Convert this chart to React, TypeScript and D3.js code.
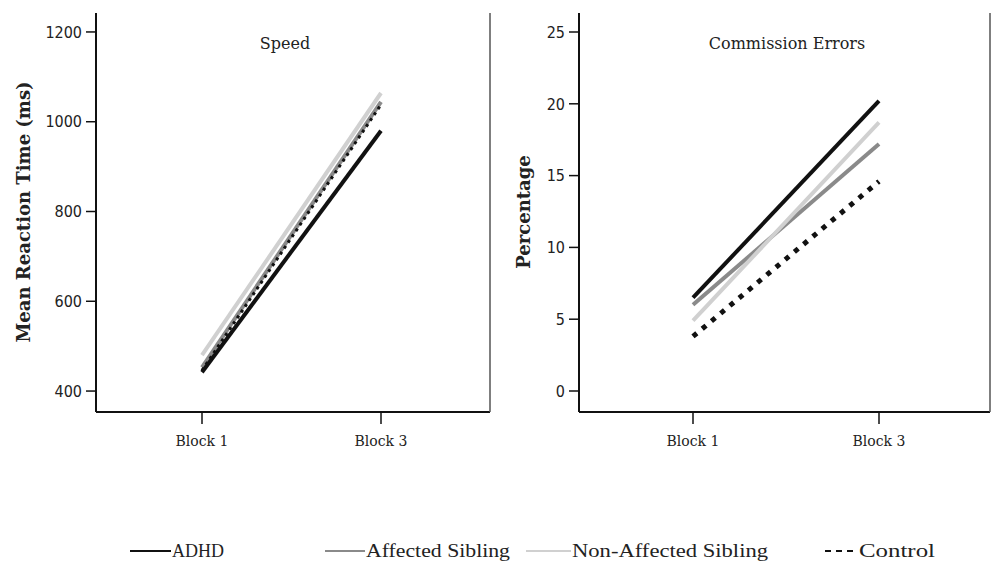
import React from "react";
import * as d3 from "d3";

const blocks = ["Block 1", "Block 3"];
const seriesNames = ["ADHD", "Affected Sibling", "Non-Affected Sibling", "Control"];
const speedADHD = [442, 980];
const speedAffected = [453, 1044];
const speedNonAffected = [480, 1064];
const speedControl = [446, 1038];
const errADHD = [6.5, 20.2];
const errAffected = [6.0, 17.2];
const errNonAffected = [4.9, 18.7];
const errControl = [3.8, 14.6];
const speedTicks = [400, 600, 800, 1000, 1200];
const errTicks = [0, 5, 10, 15, 20, 25];

const styles = [
  { color: "#111", dash: "" },
  { color: "#8a8a8a", dash: "" },
  { color: "#d0d0d0", dash: "" },
  { color: "#111", dash: "5 6" },
];

const tickFont = "'Liberation Sans Narrow', 'DejaVu Sans Condensed', 'Liberation Sans', sans-serif";
const slab = "'DejaVu Serif', serif";
const serif = "'Liberation Serif', 'DejaVu Serif', serif";

type PanelProps = {
  x0: number;
  x2: number;
  bx1: number;
  bx3: number;
  domain: [number, number];
  ticks: number[];
  series: number[][];
  title: string;
  titleX: number;
  ylabel: string;
  ylabelX: number;
  order: number[];
  dashW: number[];
};

function Panel(p: PanelProps) {
  const top = 13;
  const bottom = 412;
  const y = d3.scaleLinear().domain(p.domain).range([bottom, top]);
  const x = d3.scalePoint<string>().domain(blocks).range([p.bx1, p.bx3]);
  const line = d3
    .line<[string, number]>()
    .x((d) => x(d[0]) as number)
    .y((d) => y(d[1]));
  return (
    <g>
      {p.order.map((i) => (
        <path
          key={i}
          d={line(blocks.map((b, j) => [b, p.series[i][j]] as [string, number])) || ""}
          fill="none"
          stroke={styles[i].color}
          strokeWidth={i === 3 ? p.dashW[0] : 4}
          strokeDasharray={i === 3 ? `${p.dashW[1]} ${p.dashW[2]}` : undefined}
        />
      ))}
      <line x1={p.x0} x2={p.x0} y1={top} y2={bottom} stroke="#111" strokeWidth={2} />
      <line x1={p.x0} x2={p.x2} y1={bottom} y2={bottom} stroke="#111" strokeWidth={2} />
      <line x1={p.x2} x2={p.x2} y1={top} y2={bottom} stroke="#555" strokeWidth={1.5} />
      {p.ticks.map((t) => (
        <g key={t}>
          <line x1={p.x0 - 10} x2={p.x0} y1={y(t)} y2={y(t)} stroke="#111" strokeWidth={1.5} />
          <text
            x={p.x0 - 14}
            y={y(t)}
            dy="0.36em"
            textAnchor="end"
            fontFamily={tickFont}
            fontSize={16}
            fill="#222"
          >
            {t}
          </text>
        </g>
      ))}
      {blocks.map((b) => (
        <g key={b}>
          <line x1={x(b)} x2={x(b)} y1={bottom} y2={bottom + 12} stroke="#111" strokeWidth={1.5} />
          <text
            x={x(b)}
            y={bottom + 34}
            textAnchor="middle"
            fontFamily={slab}
            fontSize={14}
            fill="#222"
          >
            {b}
          </text>
        </g>
      ))}
      <text x={p.titleX} y={49} textAnchor="middle" fontFamily={slab} fontSize={16} fill="#222">
        {p.title}
      </text>
      <text
        transform={`translate(${p.ylabelX},212) rotate(-90)`}
        textAnchor="middle"
        fontFamily={slab}
        fontWeight="bold"
        fontSize={18}
        fill="#222"
      >
        {p.ylabel}
      </text>
    </g>
  );
}

export default function App() {
  const speed = [speedADHD, speedAffected, speedNonAffected, speedControl];
  const err = [errADHD, errAffected, errNonAffected, errControl];
  const speedDomain: [number, number] = [400 - (21 / 90) * 200, 1200 + (19 / 90) * 200];
  const errDomain: [number, number] = [0 - (21 / 71.8) * 5, 25 + (19 / 71.8) * 5];
  const legend = [
    { x: 130, tx: 172, w: 52 },
    { x: 325, tx: 366, w: 144 },
    { x: 526, tx: 572, w: 196 },
    { x: 825, tx: 859, w: 76 },
  ];
  return (
    <svg
      width={992}
      height={565}
      style={{ position: "absolute", left: 0, top: 0, background: "#fff" }}
    >
      <Panel
        x0={96}
        x2={490}
        bx1={202}
        bx3={381}
        domain={speedDomain}
        ticks={speedTicks}
        series={speed}
        title="Speed"
        titleX={285}
        ylabel="Mean Reaction Time (ms)"
        ylabelX={30}
        order={[2, 1, 0, 3]}
        dashW={[3, 3, 4]}
      />
      <Panel
        x0={579}
        x2={990}
        bx1={693}
        bx3={879}
        domain={errDomain}
        ticks={errTicks}
        series={err}
        title="Commission Errors"
        titleX={787}
        ylabel="Percentage"
        ylabelX={530}
        order={[1, 2, 0, 3]}
        dashW={[5, 5, 7]}
      />
      {seriesNames.map((n, i) => (
        <g key={n}>
          <line
            x1={legend[i].x}
            x2={legend[i].tx - 1}
            y1={551}
            y2={551}
            stroke={styles[i].color}
            strokeWidth={2}
            strokeDasharray={i === 3 ? "6 5" : undefined}
          />
          <text
            x={legend[i].tx}
            y={557}
            fontFamily={serif}
            fontSize={19}
            fill="#222"
            textLength={legend[i].w}
            lengthAdjust="spacingAndGlyphs"
          >
            {n}
          </text>
        </g>
      ))}
    </svg>
  );
}
